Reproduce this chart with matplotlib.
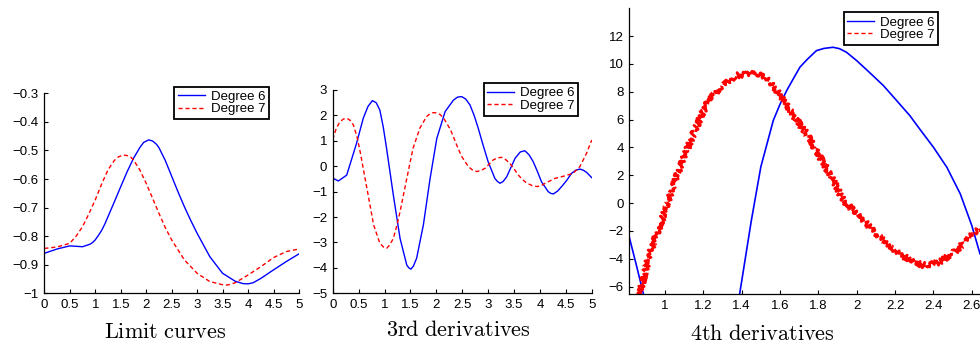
import matplotlib
matplotlib.use("Agg")
import matplotlib.pyplot as plt

plt.rcParams['font.family'] = ['Liberation Sans', 'DejaVu Sans']
plt.rcParams['mathtext.fontset'] = 'cm'

# limit curves
lim_x6 = [0, 0.25, 0.5, 0.75, 0.9, 0.95, 1.0, 1.06, 1.125, 1.19, 1.25, 1.375, 1.5, 1.625, 1.75,
          1.875, 1.95, 2.05, 2.125, 2.2, 2.25, 2.375, 2.5, 2.625, 2.75, 2.875, 3.0, 3.25, 3.5,
          3.75, 3.9, 4.0, 4.1, 4.25, 4.5, 4.75, 5.0]
lim_y6 = [-0.860, -0.845, -0.834, -0.837, -0.828, -0.822, -0.813, -0.798, -0.780, -0.757, -0.732,
          -0.680, -0.627, -0.575, -0.528, -0.490, -0.472, -0.463, -0.467, -0.478, -0.490, -0.535,
          -0.590, -0.645, -0.697, -0.745, -0.790, -0.872, -0.930, -0.958, -0.966, -0.967, -0.963,
          -0.948, -0.918, -0.889, -0.862]
lim_x7 = [0, 0.25, 0.5, 0.625, 0.75, 0.875, 1.0, 1.125, 1.25, 1.375, 1.45, 1.55, 1.625, 1.7, 1.75,
          1.875, 2.0, 2.125, 2.25, 2.375, 2.5, 2.75, 3.0, 3.25, 3.5, 3.6, 3.75, 4.0, 4.25, 4.5,
          4.75, 5.0]
lim_y7 = [-0.843, -0.838, -0.825, -0.800, -0.767, -0.722, -0.673, -0.618, -0.568, -0.535, -0.523,
          -0.516, -0.518, -0.524, -0.533, -0.568, -0.615, -0.667, -0.720, -0.770, -0.813, -0.883,
          -0.930, -0.959, -0.970, -0.971, -0.963, -0.936, -0.907, -0.875, -0.854, -0.845]

# 3rd derivatives
d3_x6 = [0, 0.11, 0.27, 0.46, 0.59, 0.68, 0.766, 0.84, 0.91, 0.975, 1.04, 1.17, 1.30, 1.43, 1.47,
         1.51, 1.56, 1.62, 1.75, 1.88, 2.01, 2.17, 2.33, 2.41, 2.49, 2.57, 2.65, 2.73, 2.81, 2.90,
         3.0, 3.13, 3.18, 3.23, 3.29, 3.36, 3.44, 3.52, 3.62, 3.71, 3.79, 3.87, 3.95, 4.03, 4.16,
         4.21, 4.26, 4.34, 4.42, 4.52, 4.61, 4.69, 4.77, 4.84, 4.90, 5.0]
d3_y6 = [-0.47, -0.58, -0.35, 0.90, 1.89, 2.35, 2.58, 2.50, 2.21, 1.55, 0.70, -1.13, -2.84, -3.89,
         -4.00, -4.05, -3.92, -3.62, -2.31, -0.48, 1.10, 2.15, 2.60, 2.72, 2.74, 2.64, 2.41, 2.00,
         1.49, 0.85, 0.18, -0.48, -0.60, -0.67, -0.60, -0.41, -0.05, 0.31, 0.56, 0.61, 0.45,
         0.18, -0.20, -0.61, -1.00, -1.07, -1.09, -0.98, -0.80, -0.55, -0.28, -0.16, -0.11,
         -0.16, -0.24, -0.45]
d3_x7 = [0, 0.07, 0.14, 0.21, 0.28, 0.34, 0.40, 0.47, 0.53, 0.66, 0.79, 0.91, 0.98, 1.04, 1.10,
         1.17, 1.23, 1.30, 1.43, 1.55, 1.68, 1.81, 1.875, 1.94, 2.0, 2.07, 2.14, 2.20, 2.27, 2.33,
         2.41, 2.49, 2.62, 2.70, 2.78, 2.86, 2.94, 3.10, 3.18, 3.26, 3.34, 3.42, 3.50, 3.58, 3.66,
         3.75, 3.85, 3.94, 4.02, 4.10, 4.20, 4.29, 4.38, 4.48, 4.64, 4.77, 4.90, 5.0]
d3_y7 = [1.05, 1.50, 1.75, 1.86, 1.88, 1.80, 1.62, 1.15, 0.57, -0.87, -2.31, -3.03, -3.18, -3.23,
         -3.10, -2.84, -2.40, -1.79, -0.48, 0.70, 1.49, 1.95, 2.06, 2.11, 2.10, 2.04, 1.90, 1.69,
         1.45, 1.16, 0.75, 0.38, -0.02, -0.15, -0.21, -0.17, -0.08, 0.25, 0.33, 0.35, 0.26, 0.11,
         -0.10, -0.34, -0.52, -0.67, -0.76, -0.80, -0.77, -0.67, -0.57, -0.48, -0.43, -0.38,
         -0.28, -0.02, 0.51, 1.03]

# 4th derivatives
d4_x6 = [0.814, 0.85, 0.9, 0.95, 1.1, 1.25, 1.39, 1.45, 1.5, 1.565, 1.6, 1.635, 1.67, 1.704, 1.74,
         1.79, 1.83, 1.877, 1.91, 1.947, 2.0, 2.07, 2.139, 2.2, 2.277, 2.33, 2.4, 2.47, 2.54, 2.6,
         2.643]
d4_y6 = [-2.44, -4.4, -7.2, -10.0, -18.0, -16.0, -6.5, -1.3, 2.6, 5.94, 7.1, 8.09, 8.95, 9.77,
         10.3, 10.96, 11.12, 11.2, 11.1, 10.84, 10.24, 9.35, 8.45, 7.5, 6.29, 5.3, 4.02, 2.58,
         0.67, -1.6, -3.64]
d4_x7 = [0.86, 0.92, 1.0, 1.078, 1.148, 1.217, 1.287, 1.33, 1.374, 1.41, 1.443, 1.48, 1.513, 1.55,
         1.583, 1.652, 1.739, 1.809, 1.878, 1.93, 2.017, 2.104, 2.191, 2.277, 2.347, 2.433, 2.52,
         2.59, 2.643]
d4_y7 = [-7.0, -3.64, -0.6, 2.58, 4.98, 7.13, 8.33, 8.8, 9.17, 9.25, 9.29, 9.25, 9.17, 8.7, 8.09,
         6.65, 4.98, 3.3, 1.63, 0.19, -1.0, -2.2, -3.28, -4.12, -4.48, -4.24, -3.4, -2.44, -1.84]

fig = plt.figure(figsize=(9.8, 3.48), dpi=100)

blue = '#0000ff'
red = '#ff0000'


def style_axes(ax):
    for side in ('top', 'right'):
        ax.spines[side].set_visible(False)
    for side in ('left', 'bottom'):
        ax.spines[side].set_linewidth(0.9)
    ax.tick_params(direction='in', length=3, width=0.8, labelsize=9.5, pad=4)


def add_legend(ax, anchor):
    leg = ax.legend(loc='upper right', bbox_to_anchor=anchor, fontsize=9.5, fancybox=False,
                    edgecolor='black', framealpha=1, borderpad=0.3, labelspacing=0.0,
                    handlelength=2.0, handletextpad=0.45, borderaxespad=0)
    leg.get_frame().set_linewidth(1.3)
    return leg


ax1 = fig.add_axes((0.0452, 0.1572, 0.2599, 0.5747))
ax1.plot(lim_x6, lim_y6, color=blue, lw=1.0, label='Degree 6')
ax1.plot(lim_x7, lim_y7, color=red, lw=1.0, ls=(0, (3, 2)), label='Degree 7')
ax1.set_xlim(0, 5)
ax1.set_ylim(-1, -0.3)
ax1.set_xticks([0, 0.5, 1, 1.5, 2, 2.5, 3, 3.5, 4, 4.5, 5])
ax1.set_xticklabels(['0', '0.5', '1', '1.5', '2', '2.5', '3', '3.5', '4', '4.5', '5'])
ax1.set_yticks([-1, -0.9, -0.8, -0.7, -0.6, -0.5, -0.4, -0.3])
ax1.set_yticklabels(['\u22121', '\u22120.9', '\u22120.8', '\u22120.7', '\u22120.6', '\u22120.5',
                     '\u22120.4', '\u22120.3'])
style_axes(ax1)
add_legend(ax1, (0.883, 1.033))

ax2 = fig.add_axes((0.3395, 0.1572, 0.2643, 0.5842))
ax2.plot(d3_x6, d3_y6, color=blue, lw=1.0, label='Degree 6')
ax2.plot(d3_x7, d3_y7, color=red, lw=1.0, ls=(0, (3, 2)), label='Degree 7')
ax2.set_xlim(0, 5)
ax2.set_ylim(-5, 3)
ax2.set_xticks([0, 0.5, 1, 1.5, 2, 2.5, 3, 3.5, 4, 4.5, 5])
ax2.set_xticklabels(['0', '0.5', '1', '1.5', '2', '2.5', '3', '3.5', '4', '4.5', '5'])
ax2.set_yticks(range(-5, 4))
style_axes(ax2)
add_legend(ax2, (0.948, 1.033))

ax3 = fig.add_axes((0.6421, 0.1552, 0.3579, 0.8209))
ax3.plot(d4_x6, d4_y6, color=blue, lw=1.2, label='Degree 6')
noisy, = ax3.plot(d4_x7, d4_y7, color=red, lw=2.0, ls=(0, (4, 1)), label='Degree 7')
noisy.set_sketch_params(scale=2.8, length=1.5, randomness=3)
ax3.set_xlim(0.814, 2.643)
ax3.set_ylim(-6.53, 14)
ax3.set_xticks([1, 1.2, 1.4, 1.6, 1.8, 2, 2.2, 2.4, 2.6])
ax3.set_xticklabels(['1', '1.2', '1.4', '1.6', '1.8', '2', '2.2', '2.4', '2.6'])
ax3.set_yticks(range(-6, 13, 2))
style_axes(ax3)
leg3 = add_legend(ax3, (0.881, 0.986))
for h in leg3.legend_handles:
    h.set_sketch_params(None)
    h.set_linewidth(1.0)
    h.set_linestyle('-' if h.get_label() == 'Degree 6' else (0, (3, 2)))

fig.text(165 / 980, 1 - 332 / 348, r'$\mathrm{Limit\ curves}$', fontsize=16, ha='center', va='center')
fig.text(458 / 980, 1 - 331 / 348, r'$\mathrm{3rd\ derivatives}$', fontsize=16, ha='center', va='center')
fig.text(762 / 980, 1 - 335 / 348, r'$\mathrm{4th\ derivatives}$', fontsize=16, ha='center', va='center')

fig.savefig('out.png', dpi=100)
